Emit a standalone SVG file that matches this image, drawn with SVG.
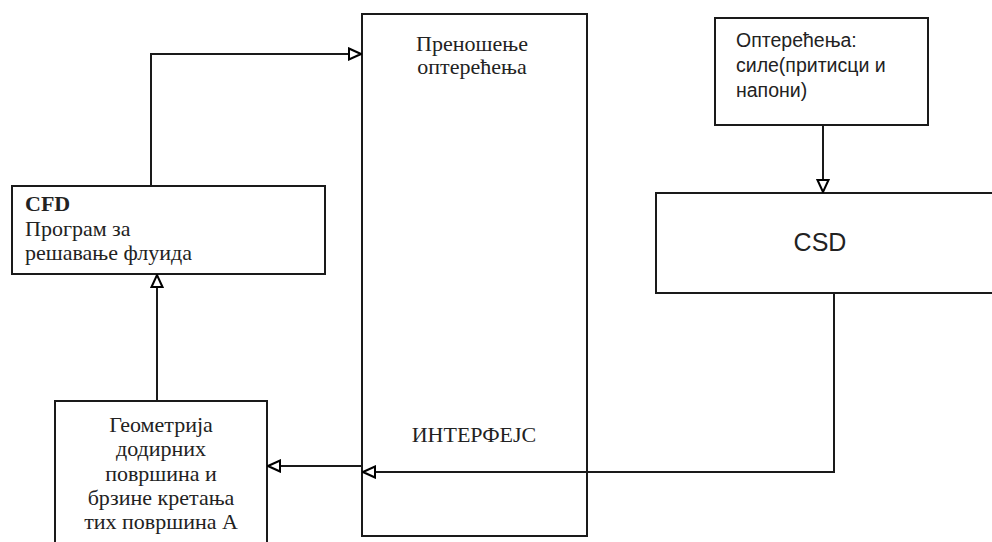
<svg xmlns="http://www.w3.org/2000/svg" width="992" height="542" viewBox="0 0 992 542">
<defs>
<marker id="tri" viewBox="0 0 14 14" refX="13" refY="7" markerWidth="14" markerHeight="14" markerUnits="userSpaceOnUse" orient="auto">
<path d="M1,1.5 L13,7 L1,12.5 Z" fill="#fff" stroke="#000" stroke-width="2"/>
</marker>
</defs>
<style>
.box{fill:#fff;stroke:#1a1a1a;stroke-width:2}
.ln{fill:none;stroke:#1a1a1a;stroke-width:2}
.serif{font-family:"Liberation Serif","Times New Roman",serif;font-size:22px;fill:#222}
.sans{font-family:"Liberation Sans",Arial,sans-serif;fill:#222}
</style>
<rect width="992" height="542" fill="#fff"/>
<g id="interface">
<rect class="box" x="362" y="14" width="225" height="522"/>
<text class="serif" x="472" y="51" text-anchor="middle">Преношење</text>
<text class="serif" x="472" y="74" text-anchor="middle">оптерећења</text>
<text class="serif" x="474" y="442" text-anchor="middle">ИНТЕРФЕЈС</text>
</g>
<g id="cfd">
<rect class="box" x="12" y="186" width="313" height="88"/>
<text class="serif" x="25" y="211" font-weight="bold">CFD</text>
<text class="serif" x="25" y="236">Програм за</text>
<text class="serif" x="25" y="260">решавање флуида</text>
</g>
<g id="geometry">
<rect class="box" x="55" y="401" width="212" height="150"/>
<text class="serif" x="161" y="432" text-anchor="middle">Геометрија</text>
<text class="serif" x="161" y="456" text-anchor="middle">додирних</text>
<text class="serif" x="161" y="481" text-anchor="middle">површина и</text>
<text class="serif" x="161" y="505" text-anchor="middle">брзине кретања</text>
<text class="serif" x="161" y="529" text-anchor="middle">тих површина А</text>
</g>
<g id="loads">
<rect class="box" x="715" y="18" width="213" height="107"/>
<text class="sans" x="736" y="47" font-size="19.5">Оптерећења:</text>
<text class="sans" x="736" y="72" font-size="19.5">силе(притисци и</text>
<text class="sans" x="736" y="97" font-size="19.5">напони)</text>
</g>
<g id="csd">
<rect class="box" x="656" y="193" width="340" height="100"/>
<text class="sans" x="820" y="251" font-size="25" text-anchor="middle">CSD</text>
</g>
<g id="connectors">
<path class="ln" d="M151,186 V54 H361" marker-end="url(#tri)"/>
<path class="ln" d="M157,401 V275" marker-end="url(#tri)"/>
<path class="ln" d="M362,466 H268" marker-end="url(#tri)"/>
<path class="ln" d="M823,125 V192" marker-end="url(#tri)"/>
<path class="ln" d="M834,293 V472 H363" marker-end="url(#tri)"/>
</g>
</svg>
